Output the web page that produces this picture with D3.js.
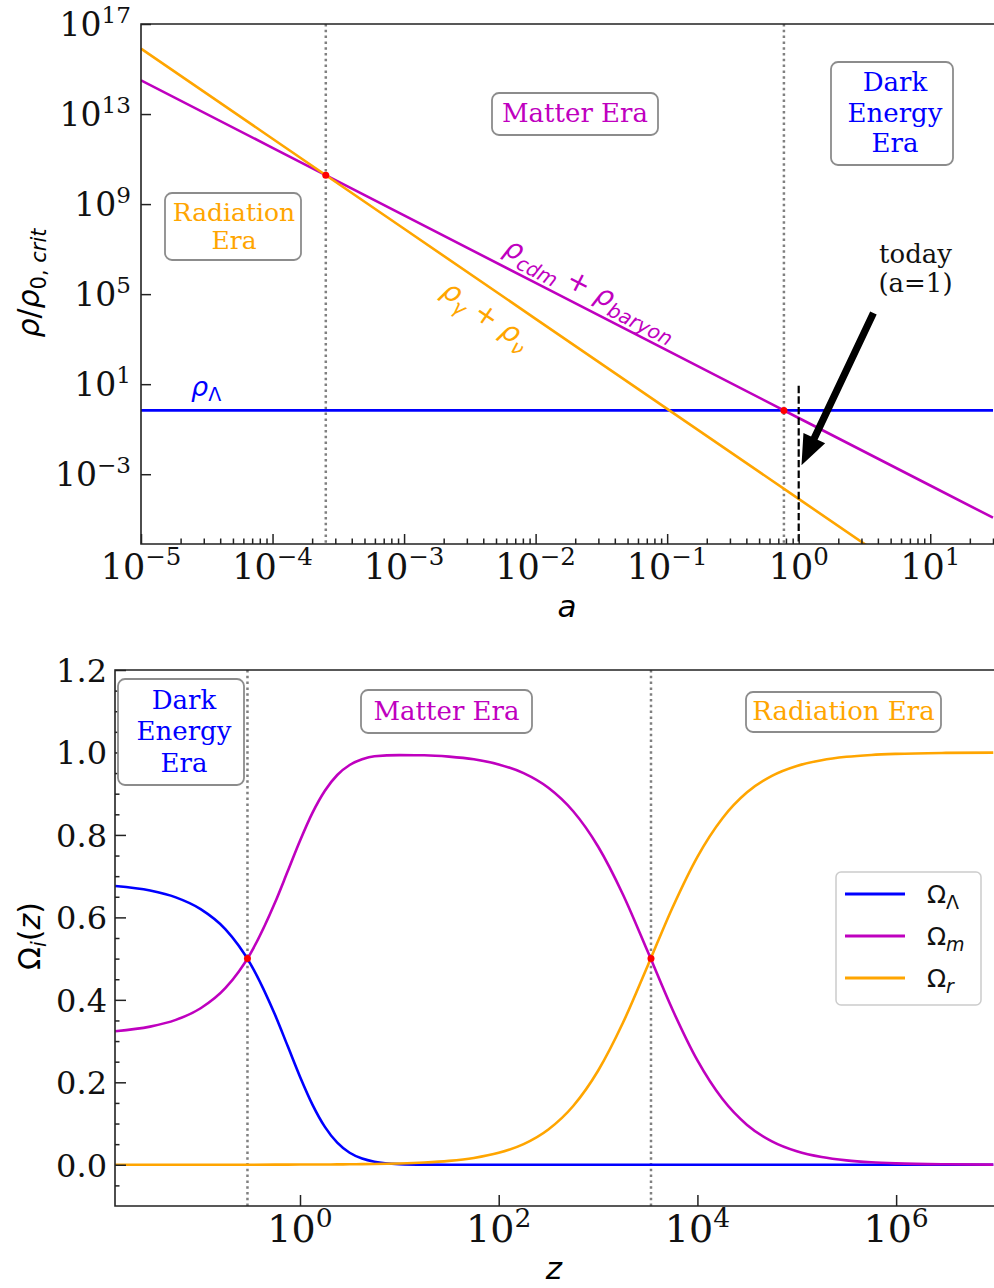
<!DOCTYPE html>
<html>
<head>
<meta charset="utf-8">
<script src="https://cdn.jsdelivr.net/npm/d3@7"></script>
<style>
  body { margin: 0; background: #fff; }
  svg { display: block; }
  text { font-family: "DejaVu Serif", serif; }
  .sans { font-family: "DejaVu Sans", sans-serif; }
</style>
</head>
<body>
<div id="chart"></div>
<script>
// ---- top panel data: energy densities vs scale factor ----
var aVals = [1e-5, 1e-4, 1e-3, 1e-2, 1e-1, 1, 10, 30];
var rhoMatter = [3.15e14, 3.15e11, 3.15e8, 3.15e5, 315, 0.315, 3.15e-4, 1.17e-5];
var rhoRadiation = [8e15, 8e11, 8e7, 8e3, 0.8, 8e-5, 8e-9, 9.9e-11];
var rhoLambda = [0.685, 0.685, 0.685, 0.685, 0.685, 0.685, 0.685, 0.685];
var aEquality = [2.54e-4, 0.772];
var rhoEquality = [1.92e10, 0.685];

// ---- bottom panel data: density parameters vs redshift ----
var zVals = [0.0138, 0.031, 0.0562, 0.1, 0.178, 0.316, 0.562, 0.75, 1, 1.334, 1.78, 2.371, 3.16, 4.217, 5.62,
  10, 17.8, 31.6, 56.2, 100, 178, 316, 562, 1000, 1780, 3160, 5620, 1e4, 1.78e4, 3.16e4, 5.62e4,
  1e5, 1.78e5, 3.16e5, 5.62e5, 1e6, 3.16e6, 9.5e6];
var omegaLambda = [0.676, 0.665, 0.6485, 0.620, 0.571, 0.488, 0.363, 0.2885, 0.2136, 0.146, 0.092, 0.0537, 0.0292, 0.0151, 0.0074,
  0.0016, 0.0003, 0.0001, 0, 0, 0, 0, 0, 0, 0, 0, 0, 0, 0, 0, 0,
  0, 0, 0, 0, 0, 0, 0];
var omegaMatter = [0.3239, 0.335, 0.3514, 0.3796, 0.4289, 0.5117, 0.6366, 0.7111, 0.7859, 0.8535, 0.9072, 0.9454, 0.9696, 0.9834, 0.9907,
  0.9935, 0.9932, 0.9900, 0.9834, 0.9710, 0.9499, 0.9144, 0.8574, 0.7719, 0.6556, 0.5171, 0.3759, 0.2530, 0.1600, 0.0967, 0.0568,
  0.0328, 0.0187, 0.0106, 0.0060, 0.0034, 0.0011, 0.0004];
var omegaRadiation = [0.0001, 0.0001, 0.0001, 0.0001, 0.0002, 0.0002, 0.0003, 0.0004, 0.0005, 0.0006, 0.0007, 0.0009, 0.0012, 0.0015, 0.0019,
  0.0032, 0.0055, 0.0095, 0.0166, 0.0290, 0.0501, 0.0856, 0.1426, 0.2281, 0.3444, 0.4829, 0.6241, 0.7470, 0.8400, 0.9033, 0.9432,
  0.9672, 0.9813, 0.9894, 0.9940, 0.9966, 0.9989, 0.9996];
var zEquality = [0.296, 3410];
var omegaEquality = [0.5, 0.5];

// ---- ticks ----
var aTickExp = [-5, -4, -3, -2, -1, 0, 1];
var rhoTickExp = [17, 13, 9, 5, 1, -3];
var zTickExp = [0, 2, 4, 6];
var omegaTicks = [0, 0.2, 0.4, 0.6, 0.8, 1.0, 1.2];

var BLUE = "#0000ff", MAG = "#bf00bf", ORANGE = "#ffa500";

var svg = d3.select("#chart").append("svg")
  .attr("width", 994)
  .attr("height", 1288);

// panel boxes
var p1 = {left: 141, top: 24, right: 993, bottom: 544};
var p2 = {left: 115, top: 670, right: 993, bottom: 1206};

var x1 = d3.scaleLog().domain([1e-5, 30]).range([p1.left, p1.right]);
var y1 = d3.scaleLog().domain([Math.pow(10, -6.1), 1e17]).range([p1.bottom, p1.top]);
var x2 = d3.scaleLog().domain([0.01374, 9.44e6]).range([p2.left, p2.right]);
var y2 = d3.scaleLinear().domain([-0.1, 1.2]).range([p2.bottom, p2.top]);

var defs = svg.append("defs");
defs.append("clipPath").attr("id", "clip1").append("rect")
  .attr("x", p1.left).attr("y", p1.top).attr("width", 1000 - p1.left).attr("height", p1.bottom - p1.top);
defs.append("clipPath").attr("id", "clip2").append("rect")
  .attr("x", p2.left).attr("y", p2.top).attr("width", 1000 - p2.left).attr("height", p2.bottom - p2.top);

function ticks(g, axisFn, scale, values, size, tr) {
  g.append("g").attr("transform", tr)
    .call(axisFn(scale).tickValues(values).tickSize(-size).tickSizeOuter(0).tickFormat(""))
    .call(s => s.select(".domain").remove())
    .selectAll("line").attr("stroke", "#222").attr("stroke-width", 1.5);
}

// "10^n" tick label, mathtext style
function powLabel(g, x, y, exp, anchor, fs) {
  var t = g.append("text").attr("x", x).attr("y", y)
    .attr("text-anchor", anchor).style("font-size", fs + "px").attr("fill", "#111");
  t.append("tspan").text("10");
  t.append("tspan").attr("dy", -0.4 * fs).style("font-size", (0.7 * fs) + "px")
    .text(exp < 0 ? "\u2212" + (-exp) : exp);
}

function eraBox(g, o) {
  g.append("rect")
    .attr("x", o.cx - o.w / 2).attr("y", o.cy - o.h / 2)
    .attr("width", o.w).attr("height", o.h)
    .attr("rx", 7)
    .attr("fill", "white").attr("stroke", "#8c8c8c").attr("stroke-width", 1.8);
  var t = g.append("text").attr("text-anchor", "middle").attr("fill", o.color)
    .style("font-size", (o.fs || 26) + "px");
  o.lines.forEach(function(l, i) {
    t.append("tspan")
      .attr("x", o.cx + (o.dx || 0))
      .attr("y", o.cy + (i - (o.lines.length - 1) / 2) * o.lh + 8)
      .text(l);
  });
}

var DOT = "2.5,3.3";

// ======================= TOP PANEL =======================
var g1 = svg.append("g");

// era vertical lines
g1.selectAll(".eq").data(aEquality).enter().append("line")
  .attr("x1", d => x1(d)).attr("x2", d => x1(d))
  .attr("y1", p1.top).attr("y2", p1.bottom)
  .attr("stroke", "#808080").attr("stroke-width", 2.5).attr("stroke-dasharray", DOT);

var topSeries = [
  {vals: rhoLambda, color: BLUE},
  {vals: rhoMatter, color: MAG},
  {vals: rhoRadiation, color: ORANGE}
];
var line1 = d3.line().x((d, i) => x1(aVals[i])).y(d => y1(d));
g1.append("g").attr("clip-path", "url(#clip1)")
  .selectAll("path").data(topSeries).enter().append("path")
  .attr("d", d => line1(d.vals))
  .attr("fill", "none").attr("stroke", d => d.color).attr("stroke-width", 2.6);

// today line
g1.append("line")
  .attr("x1", x1(1)).attr("x2", x1(1))
  .attr("y1", y1(8.5)).attr("y2", p1.bottom)
  .attr("stroke", "black").attr("stroke-width", 2.2).attr("stroke-dasharray", "7.4,3.2");

// equality dots
g1.selectAll(".dot").data(aEquality).enter().append("circle")
  .attr("cx", d => x1(d)).attr("cy", (d, i) => y1(rhoEquality[i]))
  .attr("r", 3.5).attr("fill", "red");

// spines
g1.append("path")
  .attr("d", `M1000,${p1.top}H${p1.left}V${p1.bottom}H1000`)
  .attr("fill", "none").attr("stroke", "#222").attr("stroke-width", 1.6);

// ticks
var aMinor = [];
d3.range(-5, 2).forEach(function(e) {
  for (var m = 2; m <= 9; m++) aMinor.push(m * Math.pow(10, e));
});
aMinor = aMinor.filter(v => v <= 30);
ticks(g1, d3.axisBottom, x1, aTickExp.map(e => Math.pow(10, e)), 10, `translate(0,${p1.bottom})`);
ticks(g1, d3.axisBottom, x1, aMinor, 5.5, `translate(0,${p1.bottom})`);
ticks(g1, d3.axisLeft, y1, rhoTickExp.map(e => Math.pow(10, e)), 10, `translate(${p1.left},0)`);

aTickExp.forEach(e => powLabel(g1, x1(Math.pow(10, e)), p1.bottom + 35, e, "middle", 35));
rhoTickExp.forEach(e => powLabel(g1, p1.left - 10, y1(Math.pow(10, e)) + 12, e, "end", 33));

// axis labels
g1.append("text").attr("class", "sans")
  .attr("x", (p1.left + p1.right) / 2).attr("y", 617)
  .attr("text-anchor", "middle").style("font-size", "31px").style("font-style", "italic")
  .text("a");

var yl1 = g1.append("text").attr("class", "sans")
  .attr("transform", "translate(39,283) rotate(-90)")
  .attr("text-anchor", "middle").style("font-size", "30px");
yl1.append("tspan").style("font-style", "italic").text("\u03c1");
yl1.append("tspan").text("/");
yl1.append("tspan").style("font-style", "italic").text("\u03c1");
yl1.append("tspan").attr("dy", 7).style("font-size", "21px").text("0, ");
yl1.append("tspan").style("font-size", "21px").style("font-style", "italic").text("crit");

// line labels, rotated along the lines
function slopeAngle(vals) {
  var dx = x1(aVals[1]) - x1(aVals[0]);
  var dy = y1(vals[1]) - y1(vals[0]);
  return Math.atan2(dy, dx) * 180 / Math.PI;
}
function lineLabel(vals, aAt, off, color, parts) {
  var lx = x1(aAt);
  var ly = y1(vals[0] * Math.pow(aAt / aVals[0], Math.log(vals[1] / vals[0]) / Math.log(aVals[1] / aVals[0])));
  var t = g1.append("text").attr("class", "sans")
    .attr("transform", `translate(${lx},${ly}) rotate(${slopeAngle(vals)})`)
    .attr("y", off).attr("fill", color).style("font-size", "28px");
  parts.forEach(function(p) {
    var s = t.append("tspan").text(p.t);
    if (p.it) s.style("font-style", "italic");
    if (p.sub) s.style("font-size", "20px");
    if (p.dy) s.attr("dy", p.dy);
  });
}
lineLabel(rhoMatter, Math.pow(10, -5 + (497 - 141) / 131.5), -11, MAG, [
  {t: "\u03c1", it: 1}, {t: "cdm", it: 1, sub: 1, dy: 7}, {t: " + ", dy: -7},
  {t: "\u03c1", it: 1}, {t: "baryon", it: 1, sub: 1, dy: 7}
]);
lineLabel(rhoRadiation, Math.pow(10, -5 + (459 - 141) / 131.5), 34, ORANGE, [
  {t: "\u03c1", it: 1}, {t: "\u03b3", it: 1, sub: 1, dy: 7}, {t: " + ", dy: -7},
  {t: "\u03c1", it: 1}, {t: "\u03bd", it: 1, sub: 1, dy: 7}
]);
var lam = g1.append("text").attr("class", "sans")
  .attr("x", 191).attr("y", 396).attr("fill", BLUE).style("font-size", "27px");
lam.append("tspan").style("font-style", "italic").text("\u03c1");
lam.append("tspan").attr("dy", 5).style("font-size", "19px").text("\u039b");

// era boxes
[
  {lines: ["Radiation", "Era"], color: ORANGE, cx: 233, cy: 226.5, w: 136, h: 67, lh: 28, dx: 1, fs: 25},
  {lines: ["Matter Era"], color: MAG, cx: 575, cy: 114, w: 166, h: 42, lh: 30},
  {lines: ["Dark", "Energy", "Era"], color: BLUE, cx: 892, cy: 113.5, w: 122, h: 103, lh: 30.5, dx: 3}
].forEach(o => eraBox(g1, o));

// today arrow
var tail = [x1(3.7), y1(1.45e4)];
var tip = [x1(1.05), y1(2.5e-3)];
(function() {
  var dx = tip[0] - tail[0], dy = tip[1] - tail[1];
  var L = Math.sqrt(dx * dx + dy * dy);
  var u = [dx / L, dy / L], n = [-u[1], u[0]];
  var hl = 30, hw = 12, sw = 3.6;
  var b = [tip[0] - u[0] * hl, tip[1] - u[1] * hl];
  var pts = [
    [tail[0] + n[0] * sw, tail[1] + n[1] * sw],
    [b[0] + n[0] * sw, b[1] + n[1] * sw],
    [b[0] + n[0] * hw, b[1] + n[1] * hw],
    tip,
    [b[0] - n[0] * hw, b[1] - n[1] * hw],
    [b[0] - n[0] * sw, b[1] - n[1] * sw],
    [tail[0] - n[0] * sw, tail[1] - n[1] * sw]
  ];
  g1.append("polygon").attr("points", pts.map(p => p.join(",")).join(" ")).attr("fill", "black");
})();
var today = g1.append("text").attr("text-anchor", "middle").attr("fill", "#111").style("font-size", "26px");
today.append("tspan").attr("x", 915.5).attr("y", 263).text("today");
today.append("tspan").attr("x", 915.5).attr("y", 292).text("(a=1)");

// ======================= BOTTOM PANEL =======================
var g2 = svg.append("g");

g2.selectAll(".eq").data(zEquality).enter().append("line")
  .attr("x1", d => x2(d)).attr("x2", d => x2(d))
  .attr("y1", p2.top).attr("y2", p2.bottom)
  .attr("stroke", "#808080").attr("stroke-width", 2.5).attr("stroke-dasharray", DOT);

var botSeries = [
  {vals: omegaLambda, color: BLUE},
  {vals: omegaMatter, color: MAG},
  {vals: omegaRadiation, color: ORANGE}
];
var line2 = d3.line().x((d, i) => x2(zVals[i])).y(d => y2(d)).curve(d3.curveMonotoneX);
g2.append("g").attr("clip-path", "url(#clip2)")
  .selectAll("path").data(botSeries).enter().append("path")
  .attr("d", d => line2(d.vals))
  .attr("fill", "none").attr("stroke", d => d.color).attr("stroke-width", 2.6);

g2.selectAll(".dot").data(zEquality).enter().append("circle")
  .attr("cx", d => x2(d)).attr("cy", (d, i) => y2(omegaEquality[i]))
  .attr("r", 3.5).attr("fill", "red");

g2.append("path")
  .attr("d", `M1000,${p2.top}H${p2.left}V${p2.bottom}H1000`)
  .attr("fill", "none").attr("stroke", "#222").attr("stroke-width", 1.6);

var omegaMinor = d3.range(-0.05, 1.2, 0.05).filter(v => Math.abs(Math.round(v * 20) % 4) !== 0);
ticks(g2, d3.axisBottom, x2, zTickExp.map(e => Math.pow(10, e)), 11, `translate(0,${p2.bottom})`);
ticks(g2, d3.axisLeft, y2, omegaTicks, 11, `translate(${p2.left},0)`);
ticks(g2, d3.axisLeft, y2, omegaMinor, 4.5, `translate(${p2.left},0)`);

zTickExp.forEach(e => powLabel(g2, x2(Math.pow(10, e)), p2.bottom + 36, e, "middle", 38));
g2.selectAll(".ylab").data(omegaTicks).enter().append("text")
  .attr("x", p2.left - 8).attr("y", d => y2(d) + 12)
  .attr("text-anchor", "end").attr("fill", "#111").style("font-size", "32px")
  .text(d => d.toFixed(1));

g2.append("text").attr("class", "sans")
  .attr("x", (p2.left + p2.right) / 2).attr("y", 1279)
  .attr("text-anchor", "middle").style("font-size", "31px").style("font-style", "italic")
  .text("z");

var yl2 = g2.append("text").attr("class", "sans")
  .attr("transform", "translate(40,936) rotate(-90)")
  .attr("text-anchor", "middle").style("font-size", "30px");
yl2.append("tspan").text("\u03a9");
yl2.append("tspan").attr("dy", 6).style("font-size", "21px").style("font-style", "italic").text("i");
yl2.append("tspan").attr("dy", -6).text("(");
yl2.append("tspan").style("font-style", "italic").text("z");
yl2.append("tspan").text(")");

[
  {lines: ["Dark", "Energy", "Era"], color: BLUE, cx: 181, cy: 732, w: 126, h: 106, lh: 31.5, dx: 3},
  {lines: ["Matter Era"], color: MAG, cx: 446.5, cy: 711.5, w: 171, h: 43, lh: 30},
  {lines: ["Radiation Era"], color: ORANGE, cx: 843.5, cy: 712, w: 195, h: 40, lh: 30}
].forEach(o => eraBox(g2, o));

// legend
var legendItems = [
  {name: "\u03a9", sub: "\u039b", it: false, color: BLUE},
  {name: "\u03a9", sub: "m", it: true, color: MAG},
  {name: "\u03a9", sub: "r", it: true, color: ORANGE}
];
var lg = g2.append("g");
lg.append("rect").attr("x", 836).attr("y", 872).attr("width", 145).attr("height", 133)
  .attr("rx", 5).attr("fill", "white").attr("fill-opacity", 0.8)
  .attr("stroke", "#cccccc").attr("stroke-width", 1.5);
legendItems.forEach(function(d, i) {
  var yy = 894 + i * 42;
  lg.append("line").attr("x1", 845).attr("x2", 905).attr("y1", yy).attr("y2", yy)
    .attr("stroke", d.color).attr("stroke-width", 3);
  var t = lg.append("text").attr("class", "sans").attr("x", 927).attr("y", yy + 9)
    .attr("fill", "#111").style("font-size", "25px");
  t.append("tspan").text(d.name);
  t.append("tspan").attr("dy", 6).style("font-size", "19px")
    .style("font-style", d.it ? "italic" : "normal").text(d.sub);
});
</script>
</body>
</html>
